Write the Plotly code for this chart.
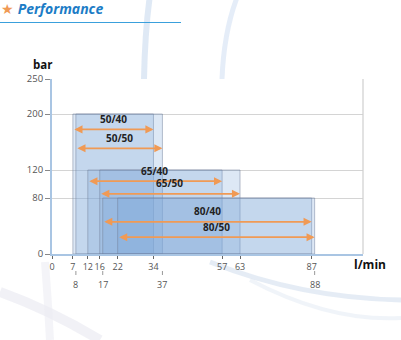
import plotly.graph_objects as go

# Pump performance ranges: flow (l/min) from-to and maximum pressure (bar)
models = ["50/40", "50/50", "65/40", "65/50", "80/40", "80/50"]
flow_min = [7, 8, 12, 16, 17, 22]
flow_max = [34, 37, 57, 63, 87, 88]
pressure = [200, 200, 120, 120, 80, 80]

x_ticks_row1 = [0, 7, 12, 16, 22, 34, 57, 63, 87]
x_ticks_row2 = [8, 17, 37, 88]
y_ticks = [0, 80, 120, 200, 250]

W, H = 401, 340
ML, MR, MT, MB = 52, 38, 79, 86
PW, PH = W - ML - MR, H - MT - MB


def px(X):
    return (X - ML) / PW


def py(Y):
    return (H - MB - Y) / PH


FILL = "rgba(125,168,218,0.26)"
EDGE = "rgba(115,130,155,0.5)"
ORANGE = "#F09A55"
FONT = "Open Sans"

fig = go.Figure()

for m, a, b, p in zip(models, flow_min, flow_max, pressure):
    fig.add_trace(go.Scatter(
        x=[a, a, b, b, a], y=[0, p, p, 0, 0],
        mode="lines", fill="toself", fillcolor=FILL,
        line=dict(color=EDGE, width=1), hoverinfo="skip", showlegend=False,
        name=m,
    ))

# vertical placement of the double-headed range arrows
arrow_levels = [178, 151, 104, 86, 46, 24]
annotations = []
for m, a, b, lvl in zip(models, flow_min, flow_max, arrow_levels):
    annotations.append(dict(
        x=b, y=lvl, ax=a, ay=lvl, xref="x", yref="y", axref="x", ayref="y",
        text="", showarrow=True, arrowhead=2, startarrowhead=2,
        arrowside="end+start", arrowwidth=1.8, arrowsize=0.9,
        startarrowsize=0.9, arrowcolor=ORANGE, standoff=0, startstandoff=0,
    ))
    annotations.append(dict(
        x=(a + b) / 2, y=lvl + 2, xref="x", yref="y", yanchor="bottom",
        text=f"<b>{m}</b>", showarrow=False,
        font=dict(family=FONT, size=10, color="#222"),
    ))

# second row of flow tick labels with small marks
shapes = []
for v in x_ticks_row2:
    annotations.append(dict(
        x=v, y=py(284), xref="x", yref="paper", yanchor="middle",
        text=str(v), showarrow=False,
        font=dict(family=FONT, size=9, color="#555"),
    ))
    shapes.append(dict(type="line", xref="x", yref="paper", x0=v, x1=v,
                       y0=py(271), y1=py(275),
                       line=dict(color="#999", width=1)))

# axis titles and heading
annotations += [
    dict(x=px(42), y=py(64), xref="paper", yref="paper", text="<b>bar</b>",
         xanchor="center", yanchor="middle",
         showarrow=False, font=dict(family=FONT, size=11.5, color="#111")),
    dict(x=px(370), y=py(264), xref="paper", yref="paper", text="<b>l/min</b>",
         xanchor="center", yanchor="middle",
         showarrow=False, font=dict(family=FONT, size=12, color="#111")),
    dict(x=px(-1), y=py(8), xref="paper", yref="paper", xanchor="left",
         yanchor="middle",
         text="<span style='color:#F09A55'>★</span> <b><i>Performance</i></b>",
         showarrow=False, font=dict(family=FONT, size=14, color="#1C7CC6")),
]

# heading underline and plot frame on the right
shapes.append(dict(type="line", xref="paper", yref="paper",
                   x0=px(0), x1=px(181), y0=py(22.5), y1=py(22.5),
                   line=dict(color="#3AA0DC", width=1.2)))
shapes.append(dict(type="line", xref="paper", yref="paper",
                   x0=1, x1=1, y0=0, y1=1,
                   line=dict(color="#cfcfcf", width=1.2)))


# faint decorative sweeps in the page background
def path(points):
    d = "M {} {}".format(px(points[0][0]), py(points[0][1]))
    for q in points[1:]:
        d += " Q {} {} {} {}".format(px(q[0]), py(q[1]), px(q[2]), py(q[3]))
    return d


deco = [
    ([(150, -5), (145, 30, 144, 79)], "rgba(215,228,243,0.8)", 6),
    ([(238, -5), (224, 30, 222, 79)], "rgba(222,233,246,0.8)", 5),
    ([(210, 262), (300, 298, 401, 300)], "rgba(218,228,241,0.7)", 5),
    ([(250, 280), (330, 322, 401, 318)], "rgba(225,233,244,0.5)", 4),
    ([(0, 292), (50, 310, 100, 340)], "rgba(232,232,240,0.6)", 10),
    ([(45, 262), (48, 300, 50, 340)], "rgba(236,236,244,0.6)", 8),
]
for pts, col, w in deco:
    shapes.append(dict(type="path", xref="paper", yref="paper", path=path(pts),
                       line=dict(color=col, width=w), layer="below"))

fig.update_layout(
    width=W, height=H, margin=dict(l=ML, r=MR, t=MT, b=MB),
    paper_bgcolor="white", plot_bgcolor="rgba(0,0,0,0)",
    annotations=annotations, shapes=shapes, showlegend=False,
    xaxis=dict(range=[0, 104.2], tickvals=x_ticks_row1,
               ticktext=[str(v) for v in x_ticks_row1], tickangle=0,
               showgrid=False, zeroline=False, showline=True,
               linecolor="#A9C5E3", linewidth=2, ticks="outside",
               ticklen=3, tickcolor="#666", tickwidth=1,
               tickfont=dict(family=FONT, size=9, color="#555"), fixedrange=True),
    yaxis=dict(range=[0, 250], tickvals=y_ticks, showgrid=True,
               gridcolor="#d4d4d4", gridwidth=1, zeroline=False, showline=True,
               linecolor="#A9C5E3", linewidth=2, ticks="outside", ticklen=5,
               tickcolor="#888", tickwidth=1,
               tickfont=dict(family=FONT, size=9.5, color="#555"), fixedrange=True),
)

fig.write_html("out.html")
